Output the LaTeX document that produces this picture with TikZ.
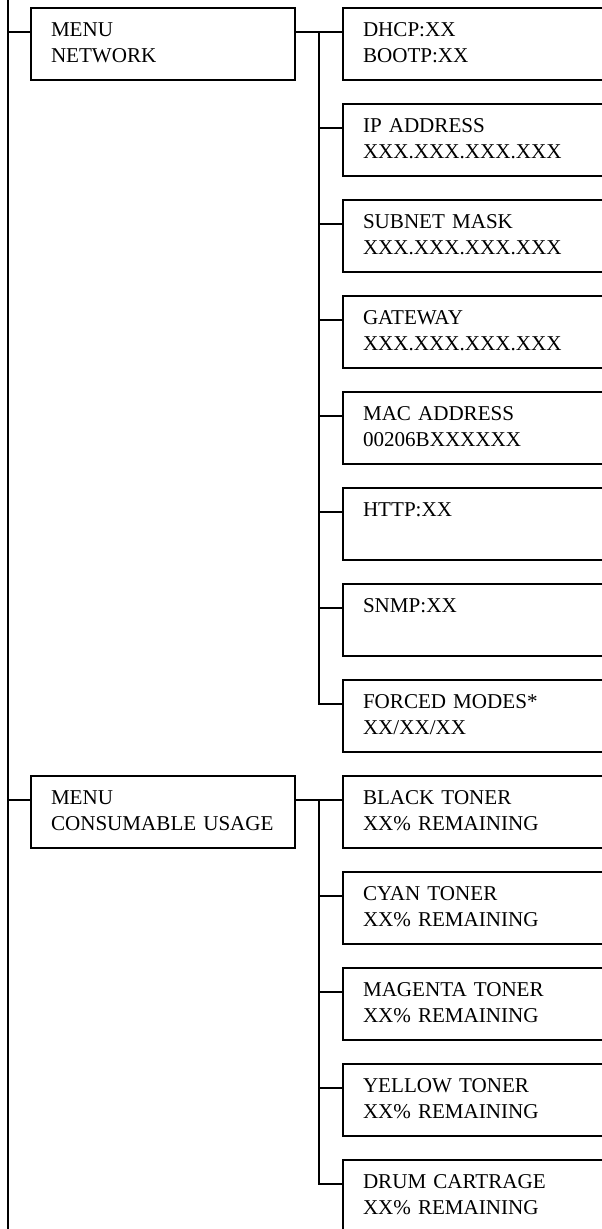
\documentclass[tikz,border=0pt]{standalone}
\usepackage{fontspec}
\setmainfont{Liberation Serif}
\usetikzlibrary{positioning}
\newcommand{\menutext}[2]{\strut#1\\\strut#2}

\begin{document}
\begin{tikzpicture}[
    line width=1.2pt,
    node distance=0.6cm,
    menubox/.style={draw, rectangle, outer sep=0pt, inner xsep=0.5cm, inner ysep=0pt,
                    text width=5.6cm, minimum height=1.8cm, align=left, anchor=north west,
                    font=\fontsize{15}{18.5}\selectfont},
    itembox/.style={menubox, text width=7cm},
]
    \clip (0,0) rectangle (15.05,-30.725);

    % Trunk
    \coordinate (trunktop) at (0.2,0);
    \coordinate (trunkend) at (0.2,-30.725);
    \draw (trunktop) -- (trunkend);

    % === network ===
    \node[menubox] (net) at (0.775,-0.2) {\menutext{MENU}{NETWORK}};
    \node[itembox] (dhcp) at (8.575,-0.2) {\menutext{DHCP:XX}{BOOTP:XX}};
    \node[itembox, below=of dhcp] (ip) {\menutext{IP ADDRESS}{XXX.XXX.XXX.XXX}};
    \node[itembox, below=of ip] (subnet) {\menutext{SUBNET MASK}{XXX.XXX.XXX.XXX}};
    \node[itembox, below=of subnet] (gateway) {\menutext{GATEWAY}{XXX.XXX.XXX.XXX}};
    \node[itembox, below=of gateway] (mac) {\menutext{MAC ADDRESS}{00206BXXXXXX}};
    \node[itembox, below=of mac] (http) {\menutext{HTTP:XX}{}};
    \node[itembox, below=of http] (snmp) {\menutext{SNMP:XX}{}};
    \node[itembox, below=of snmp] (forced) {\menutext{FORCED MODES*}{XX/XX/XX}};

    \path ([yshift=-0.6cm]net.north west) coordinate (netin);
    \draw (netin) -- (netin -| trunktop);
    \draw ([yshift=-0.6cm]net.north east) -- ([yshift=-0.6cm]dhcp.north west);
    \draw ([xshift=-0.6cm,yshift=-0.6cm]dhcp.north west) |- ([yshift=-0.6cm]forced.north west);
    \foreach \n in {ip,subnet,gateway,mac,http,snmp}
        \draw ([yshift=-0.6cm]\n.north west) -- ++(-0.6,0);

    % === consumables ===
    \node[menubox] (cons) at (0.775,-19.4) {\menutext{MENU}{CONSUMABLE USAGE}};
    \node[itembox, below=of forced] (black) {\menutext{BLACK TONER}{XX\% REMAINING}};
    \node[itembox, below=of black] (cyan) {\menutext{CYAN TONER}{XX\% REMAINING}};
    \node[itembox, below=of cyan] (magenta) {\menutext{MAGENTA TONER}{XX\% REMAINING}};
    \node[itembox, below=of magenta] (yellow) {\menutext{YELLOW TONER}{XX\% REMAINING}};
    \node[itembox, below=of yellow] (drum) {\menutext{DRUM CARTRAGE}{XX\% REMAINING}};

    \path ([yshift=-0.6cm]cons.north west) coordinate (consin);
    \draw (consin) -- (consin -| trunktop);
    \draw ([yshift=-0.6cm]cons.north east) -- ([yshift=-0.6cm]black.north west);
    \draw ([xshift=-0.6cm,yshift=-0.6cm]black.north west) |- ([yshift=-0.6cm]drum.north west);
    \foreach \n in {cyan,magenta,yellow}
        \draw ([yshift=-0.6cm]\n.north west) -- ++(-0.6,0);
\end{tikzpicture}
\end{document}
